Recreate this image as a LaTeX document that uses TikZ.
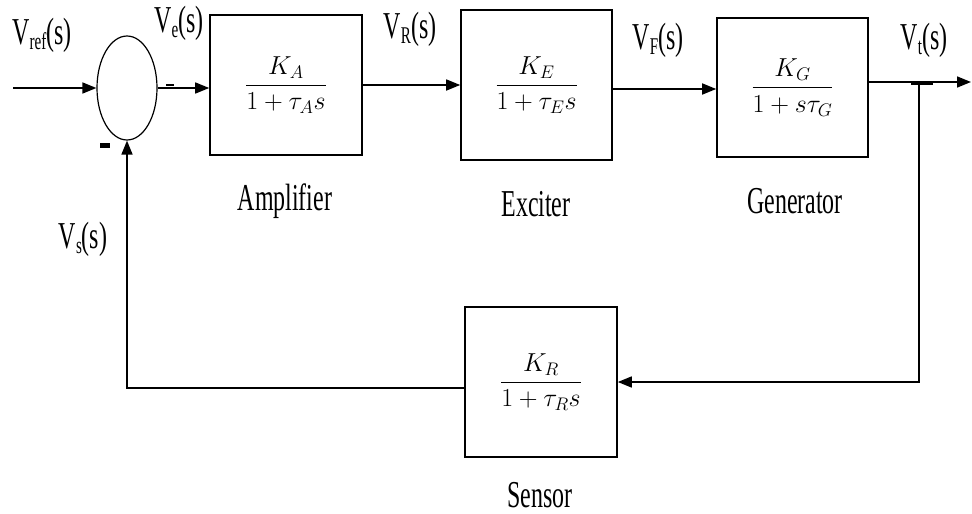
\RequirePackage{fix-cm}
\documentclass[tikz,border=0pt]{standalone}
\usepackage{fontspec}
\usepackage{amsmath}
\setmainfont{Liberation Serif}
\newfontfamily\lblfont[FakeStretch=0.63]{Liberation Serif}
\usetikzlibrary{arrows.meta,shapes.geometric}
\newcommand\sbs[1]{\raisebox{-0.3ex}{\fontsize{24}{28}\selectfont #1}}
\tikzset{
  lbl/.style={anchor=base,inner sep=0,font=\lblfont\fontsize{38}{44}\selectfont},
  blk/.style={draw,line width=1.6pt,rectangle,inner sep=0,font=\fontsize{26}{31}\selectfont},
  arr/.style={line width=1.6pt,-{Triangle[length=14pt,width=11pt]}},
  tick/.style={fill=black,inner sep=0,rectangle}
}
\begin{document}
\begin{tikzpicture}[x=1pt,y=-1pt]
\useasboundingbox (0,0) rectangle (972,514);
% blocks
\node[draw,line width=1.2pt,ellipse,minimum width=60,minimum height=104,inner sep=0] (sum) at (127,88) {};
\node[blk,minimum width=152,minimum height=140] (amp) at (286,85) {$\displaystyle\frac{K_A}{1+\tau_A s}$};
\node[blk,minimum width=151,minimum height=150] (exc) at (536.5,85) {$\displaystyle\frac{K_E}{1+\tau_E s}$};
\node[blk,minimum width=151,minimum height=139] (gen) at (792.5,87.5) {$\displaystyle\frac{K_G}{1+s\tau_G}$};
\node[blk,minimum width=152,minimum height=150] (sen) at (541,382) {$\displaystyle\frac{K_R}{1+\tau_R s}$};
% block names
\node[lbl] (lamp) at (285,210) {Amplifier};
\node[lbl] (lexc) at (536,216) {Exciter};
\node[lbl] (lgen) at (795,213) {Generator};
\node[lbl] (lsen) at (540,507) {Sensor};
% signal labels
\node[lbl] (lref) at (42,44) {V\sbs{ref}(s)};
\node[lbl] (le) at (179,32) {V\sbs{e}(s)};
\node[lbl] (lR) at (410,38) {V\sbs{R}(s)};
\node[lbl] (lF) at (658,49) {V\sbs{F}(s)};
\node[lbl] (lt) at (924,49) {V\sbs{t}(s)};
\node[lbl] (ls) at (83,248) {V\sbs{s}(s)};
% signs and marks
\node[tick,minimum width=10,minimum height=5] (minus) at (105,145) {};
\node[tick,minimum width=8,minimum height=2.5] (dash) at (170,85) {};
% coordinates
\coordinate (in) at (13,88);
\coordinate (out) at (971,82);
\coordinate (tap) at (919,82);
\node[tick,minimum width=22,minimum height=3] (tapmark) at (922,83) {};
% connectors
\draw[arr] (in) -- (sum.west);
\draw[arr] (sum.east) -- ([yshift=-3pt]amp.west);
\draw[arr] (amp.east) -- (exc.west);
\draw[arr] ([yshift=-4pt]exc.east) -- ([yshift=-4pt]exc.east -| gen.west);
\draw[arr] ([yshift=5.5pt]gen.east) -- (out);
\draw[arr] (tap) |- (sen.east);
\draw[arr] ([yshift=-6pt]sen.west) -| (sum.south);
\end{tikzpicture}
\end{document}
